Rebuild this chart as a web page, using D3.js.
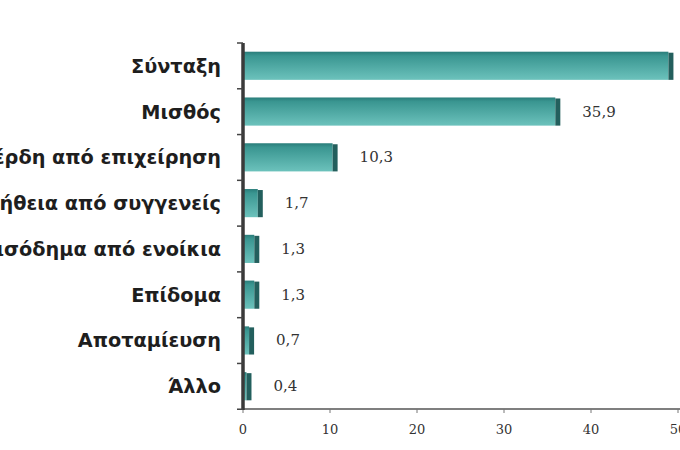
<!DOCTYPE html>
<html><head><meta charset="utf-8">
<script src="https://cdn.jsdelivr.net/npm/d3@7/dist/d3.min.js"></script>
<style>html,body{margin:0;padding:0;background:#fff;}svg{display:block;}</style>
</head><body>
<script>
const categories = ["Σύνταξη","Μισθός","Κέρδη από επιχείρηση","Βοήθεια από συγγενείς","Εισόδημα από ενοίκια","Επίδομα","Αποταμίευση","Άλλο"];
const values = [48.9,35.9,10.3,1.7,1.3,1.3,0.7,0.4];
const valueLabels = ["48,9","35,9","10,3","1,7","1,3","1,3","0,7","0,4"];
const xTicks = [0,10,20,30,40,50];

const W=680,H=450;
const svg=d3.select("body").append("svg").attr("width",W).attr("height",H);
const x=d3.scaleLinear().domain([0,50]).range([243,678]);
const y=d3.scaleBand().domain(categories).range([43,409]).paddingInner(0.385).paddingOuter(0.19);
const band=y.step();

const defs=svg.append("defs");
const g=defs.append("linearGradient").attr("id","barg").attr("x1",0).attr("y1",0).attr("x2",0).attr("y2",1);
g.append("stop").attr("offset","0%").attr("stop-color","#2a7d7a");
g.append("stop").attr("offset","15%").attr("stop-color","#3a9691");
g.append("stop").attr("offset","100%").attr("stop-color","#6cc2bc");

const cap=5;
const bars=svg.append("g");
categories.forEach((c,i)=>{
  const x0=x(0)+1, x1=x(values[i]);
  bars.append("rect").attr("x",x0).attr("y",y(c)).attr("width",Math.max(0,x1-x0)).attr("height",y.bandwidth()).attr("fill","url(#barg)");
  bars.append("rect").attr("x",x1).attr("y",y(c)+1).attr("width",cap).attr("height",y.bandwidth()-1).attr("fill","#235f5d");
  bars.append("text").attr("x",x1+cap+22).attr("y",y(c)+y.bandwidth()/2+5)
    .attr("font-family","DejaVu Serif").attr("font-size",15).attr("fill","#333").text(valueLabels[i]);
  svg.append("text").attr("x",221).attr("y",y(c)+y.bandwidth()/2+7).attr("text-anchor","end")
    .attr("font-family","DejaVu Sans").attr("font-weight","bold").attr("font-size",19.3).attr("fill","#1e1e1e").text(c);
});

// x axis
svg.append("line").attr("x1",243).attr("x2",W).attr("y1",409).attr("y2",409).attr("stroke","#555").attr("stroke-width",1.5);
xTicks.forEach(t=>{
  svg.append("line").attr("x1",x(t)).attr("x2",x(t)).attr("y1",409).attr("y2",413).attr("stroke","#777");
  svg.append("text").attr("x",x(t)).attr("y",434).attr("text-anchor","middle")
    .attr("font-family","DejaVu Serif").attr("font-size",13).attr("fill","#333").text(t);
});
// y axis
svg.append("line").attr("x1",243).attr("x2",243).attr("y1",43).attr("y2",410).attr("stroke","#3a3a3a").attr("stroke-width",3.5);
d3.range(categories.length+1).forEach(i=>{
  const yy=43+i*band;
  svg.append("line").attr("x1",237).attr("x2",243).attr("y1",yy).attr("y2",yy).attr("stroke","#444").attr("stroke-width",1.5);
});
</script>
</body></html>
